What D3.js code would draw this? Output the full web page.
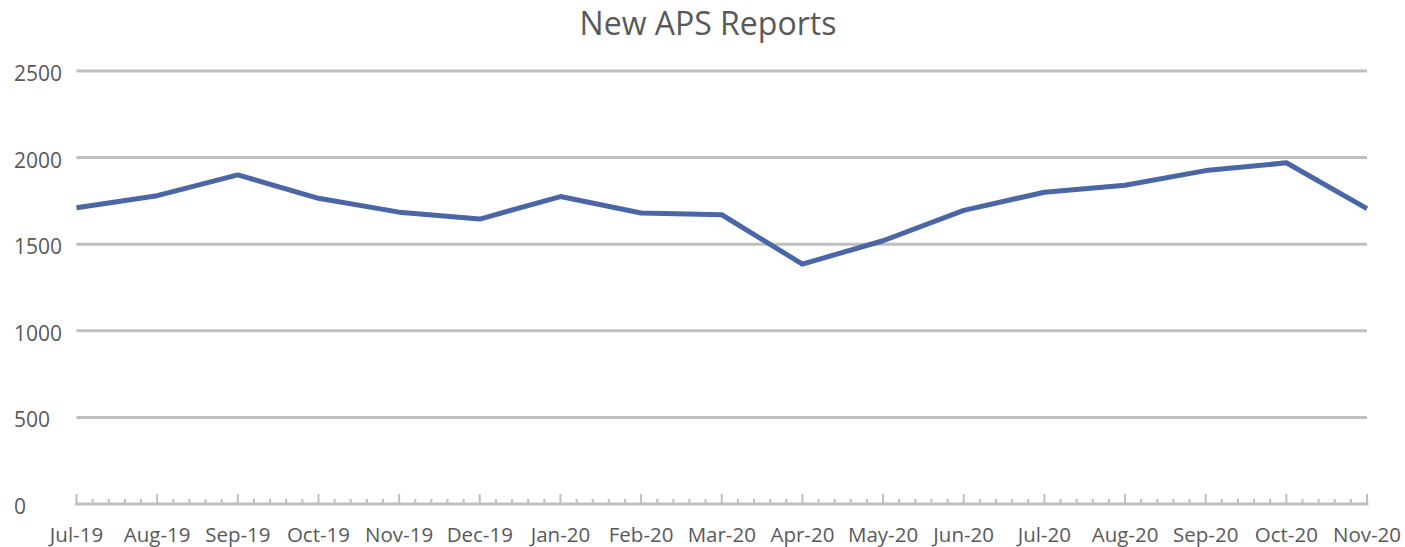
<!DOCTYPE html>
<html>
<head>
<meta charset="utf-8">
<script src="https://cdn.jsdelivr.net/npm/d3@7"></script>
<style>
  body { margin: 0; background: #fff; }
  text { font-family: "Open Sans", "Noto Sans", sans-serif; fill: #595959; }
</style>
</head>
<body>
<div id="chart"></div>
<script>
// chart data
const months = ["Jul-19", "Aug-19", "Sep-19", "Oct-19", "Nov-19", "Dec-19", "Jan-20", "Feb-20", "Mar-20",
                "Apr-20", "May-20", "Jun-20", "Jul-20", "Aug-20", "Sep-20", "Oct-20", "Nov-20"];
const reports = [1710, 1780, 1900, 1765, 1685, 1645, 1775, 1680, 1670,
                 1385, 1520, 1695, 1800, 1840, 1925, 1970, 1705];
const yTicks = [0, 500, 1000, 1500, 2000, 2500];
const title = "New APS Reports";

const width = 1405, height = 547;
const margin = {top: 71, right: 38, bottom: 43, left: 76};

const svg = d3.select("#chart")
    .append("svg")
    .attr("width", width)
    .attr("height", height);

const x = d3.scalePoint()
    .domain(months)
    .range([margin.left + 0.5, width - margin.right]);

const y = d3.scaleLinear()
    .domain([0, 2500])
    .range([height - margin.bottom, margin.top]);

// title
svg.append("text")
    .attr("x", 708)
    .attr("y", 35)
    .attr("text-anchor", "middle")
    .style("font-size", "32px")
    .text(title);

// gridlines
svg.append("g")
    .selectAll("line")
    .data(yTicks.filter(d => d > 0))
    .join("line")
    .attr("x1", x.range()[0])
    .attr("x2", x.range()[1])
    .attr("y1", d => y(d))
    .attr("y2", d => y(d))
    .attr("stroke", "#bfbfbf")
    .attr("stroke-width", 3);

// y labels (left aligned like the original)
svg.append("g")
    .selectAll("text")
    .data(yTicks)
    .join("text")
    .attr("x", 14)
    .attr("y", d => y(d) + 2)
    .attr("dominant-baseline", "central")
    .style("font-size", "21px")
    .text(d => d);

// x axis: baseline, month ticks and 4 minor ticks between months
const axisY = y(0);
const xAxis = svg.append("g");

xAxis.append("line")
    .attr("x1", x.range()[0] - 1.5)
    .attr("x2", x.range()[1] + 1.5)
    .attr("y1", axisY)
    .attr("y2", axisY)
    .attr("stroke", "#bfbfbf")
    .attr("stroke-width", 3);

xAxis.selectAll(".major")
    .data(months)
    .join("line")
    .attr("class", "major")
    .attr("x1", d => x(d))
    .attr("x2", d => x(d))
    .attr("y1", axisY)
    .attr("y2", axisY - 10)
    .attr("stroke", "#bfbfbf")
    .attr("stroke-width", 2);

const minor = [];
months.slice(0, -1).forEach((m, i) => {
    const a = x(m), b = x(months[i + 1]);
    for (let k = 1; k < 5; k++) minor.push(a + (b - a) * k / 5);
});

xAxis.selectAll(".minor")
    .data(minor)
    .join("line")
    .attr("class", "minor")
    .attr("x1", d => d)
    .attr("x2", d => d)
    .attr("y1", axisY)
    .attr("y2", axisY - 5)
    .attr("stroke", "#bfbfbf")
    .attr("stroke-width", 2);

xAxis.selectAll("text")
    .data(months)
    .join("text")
    .attr("x", d => x(d))
    .attr("y", 542)
    .attr("text-anchor", "middle")
    .style("font-size", "20.5px")
    .text(d => d);

// the series line
const line = d3.line()
    .x((d, i) => x(months[i]))
    .y(d => y(d));

svg.append("path")
    .datum(reports)
    .attr("d", line)
    .attr("fill", "none")
    .attr("stroke", "#4a66a6")
    .attr("stroke-width", 5)
    .attr("stroke-linejoin", "round");
</script>
</body>
</html>
